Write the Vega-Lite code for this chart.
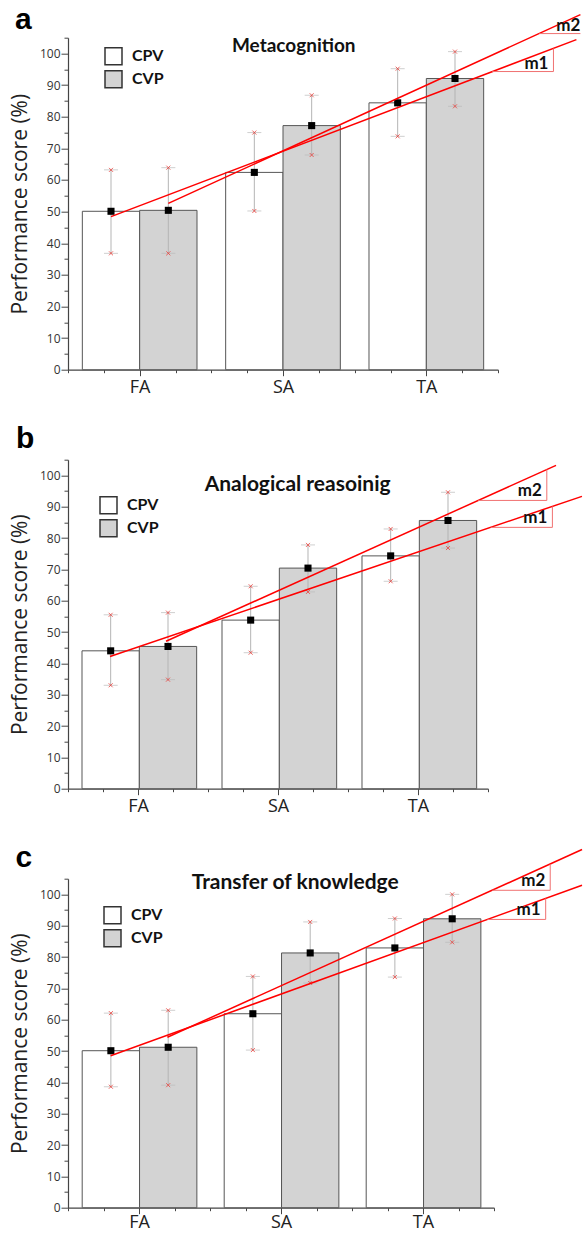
{
  "$schema": "https://vega.github.io/schema/vega-lite/v6.json",
  "bounds": "flush",
  "spacing": 90,
  "padding": {"left": 9, "top": 3.7, "right": 0, "bottom": 4},
  "background": "white",
  "config": {
    "view": {"stroke": null},
    "axis": {"grid": false, "domainColor": "#444", "tickColor": "#444", "domainWidth": 1.2, "tickWidth": 1, "labelOverlap": false}
  },
  "datasets": {
    "bars": [
      {"panel": "a", "group": "FA", "cond": "CPV", "mean": 50.1, "lo": 36.8, "hi": 63.2},
      {"panel": "a", "group": "FA", "cond": "CVP", "mean": 50.4, "lo": 36.8, "hi": 63.9},
      {"panel": "a", "group": "SA", "cond": "CPV", "mean": 62.4, "lo": 50.2, "hi": 75.0},
      {"panel": "a", "group": "SA", "cond": "CVP", "mean": 77.2, "lo": 67.9, "hi": 86.8},
      {"panel": "a", "group": "TA", "cond": "CPV", "mean": 84.4, "lo": 73.8, "hi": 95.2},
      {"panel": "a", "group": "TA", "cond": "CVP", "mean": 92.1, "lo": 83.3, "hi": 100.6},
      {"panel": "b", "group": "FA", "cond": "CPV", "mean": 44.0, "lo": 33.0, "hi": 55.5},
      {"panel": "b", "group": "FA", "cond": "CVP", "mean": 45.4, "lo": 34.8, "hi": 56.2},
      {"panel": "b", "group": "SA", "cond": "CPV", "mean": 53.8, "lo": 43.4, "hi": 64.6},
      {"panel": "b", "group": "SA", "cond": "CVP", "mean": 70.4, "lo": 62.8, "hi": 77.8},
      {"panel": "b", "group": "TA", "cond": "CPV", "mean": 74.3, "lo": 66.2, "hi": 82.9},
      {"panel": "b", "group": "TA", "cond": "CVP", "mean": 85.6, "lo": 76.8, "hi": 94.6},
      {"panel": "c", "group": "FA", "cond": "CPV", "mean": 50.1, "lo": 38.6, "hi": 62.1},
      {"panel": "c", "group": "FA", "cond": "CVP", "mean": 51.2, "lo": 39.1, "hi": 63.0},
      {"panel": "c", "group": "SA", "cond": "CPV", "mean": 61.9, "lo": 50.3, "hi": 73.8},
      {"panel": "c", "group": "SA", "cond": "CVP", "mean": 81.3, "lo": 71.7, "hi": 91.2},
      {"panel": "c", "group": "TA", "cond": "CPV", "mean": 82.9, "lo": 73.6, "hi": 92.3},
      {"panel": "c", "group": "TA", "cond": "CVP", "mean": 92.2, "lo": 84.7, "hi": 100.0}
    ],
    "fits": [
      {"panel": "a", "line": "m1", "gx": 0.8, "fy": 48.4},
      {"panel": "a", "line": "m1", "gx": 4.047, "fy": 104.4},
      {"panel": "a", "line": "m2", "gx": 1.2, "fy": 52.6},
      {"panel": "a", "line": "m2", "gx": 4.075, "fy": 112.3},
      {"panel": "b", "line": "m1", "gx": 0.8, "fy": 42.2},
      {"panel": "b", "line": "m1", "gx": 4.171, "fy": 93.3},
      {"panel": "b", "line": "m2", "gx": 1.2, "fy": 47.05},
      {"panel": "b", "line": "m2", "gx": 3.986, "fy": 103.2},
      {"panel": "c", "line": "m1", "gx": 0.8, "fy": 48.5},
      {"panel": "c", "line": "m1", "gx": 4.12, "fy": 102.9},
      {"panel": "c", "line": "m2", "gx": 1.2, "fy": 54.4},
      {"panel": "c", "line": "m2", "gx": 4.12, "fy": 114.3}
    ],
    "tri": [
      {"panel": "a", "line": "m1", "xa": 3.46, "xb": 3.887, "ya": 94.3, "yb": 101.6, "xt": 3.887},
      {"panel": "a", "line": "m2", "xa": 3.788, "xb": 4.075, "ya": 106.3, "yb": 106.3, "xt": 4.11},
      {"panel": "b", "line": "m1", "xa": 3.52, "xb": 3.96, "ya": 83.4, "yb": 90.1, "xt": 3.96},
      {"panel": "b", "line": "m2", "xa": 3.43, "xb": 3.92, "ya": 92.0, "yb": 101.9, "xt": 3.92},
      {"panel": "c", "line": "m1", "xa": 3.454, "xb": 3.864, "ya": 92.0, "yb": 98.7, "xt": 3.864},
      {"panel": "c", "line": "m2", "xa": 3.488, "xb": 3.896, "ya": 101.3, "yb": 109.7, "xt": 3.896}
    ]
  },
  "resolve": {"scale": {"fill": "independent"}, "legend": {"fill": "independent"}},
  "vconcat": [
    {
      "width": 430, "height": 332,
      "resolve": {"scale": {"x": "independent"}, "axis": {"x": "independent"}},
      "layer": [
        {
          "data": {"name": "bars"},
          "transform": [{"filter": "datum.panel === 'a'"}],
          "encoding": {
            "x": {"field": "group", "type": "nominal", "scale": {"type": "band", "domain": ["FA", "SA", "TA"], "paddingInner": 0.2, "paddingOuter": 0.1}, "axis": null},
            "xOffset": {"field": "cond", "type": "nominal", "scale": {"domain": ["CPV", "CVP"], "paddingInner": 0, "paddingOuter": 0}}
          },
          "layer": [
            {
              "mark": {"type": "bar", "stroke": "#555", "strokeWidth": 1},
              "encoding": {
                "y": {"field": "mean", "type": "quantitative", "scale": {"domain": [0, 105], "nice": false}, "axis": {"title": "Performance score (%)", "values": [0,5,10,15,20,25,30,35,40,45,50,55,60,65,70,75,80,85,90,95,100,105], "labelExpr": "datum.value % 10 === 0 ? datum.label : ''", "tickSize": {"condition": {"test": "datum.value % 10 === 0", "value": 7}, "value": 4}, "titleFont": "Open Sans", "titleFontSize": 21, "titleFontWeight": "normal", "titleColor": "#222", "titlePadding": 9, "labelFont": "Open Sans", "labelFontSize": 12, "labelColor": "#333", "labelPadding": 1, "labelOverlap": false}},
                "fill": {"field": "cond", "type": "nominal", "scale": {"domain": ["CPV", "CVP"], "range": ["#ffffff", "#d3d3d3"]},
                  "legend": {"orient": "none", "legendX": 36, "legendY": 9, "title": null, "symbolType": "square", "symbolSize": 289, "symbolStrokeColor": "#333", "symbolStrokeWidth": 1.5, "labelFont": "Lato", "labelFontWeight": "bold", "labelFontSize": 16, "labelColor": "#111", "rowPadding": 0, "labelOffset": 9, "padding": 0}}
              }
            },
            {"mark": {"type": "rule", "color": "#b5b5b5", "strokeWidth": 1}, "encoding": {"y": {"field": "lo", "type": "quantitative", "scale": {"domain": [0, 105], "nice": false}, "axis": {"title": "Performance score (%)", "values": [0,5,10,15,20,25,30,35,40,45,50,55,60,65,70,75,80,85,90,95,100,105], "labelExpr": "datum.value % 10 === 0 ? datum.label : ''", "tickSize": {"condition": {"test": "datum.value % 10 === 0", "value": 7}, "value": 4}, "titleFont": "Open Sans", "titleFontSize": 21, "titleFontWeight": "normal", "titleColor": "#222", "titlePadding": 9, "labelFont": "Open Sans", "labelFontSize": 12, "labelColor": "#333", "labelPadding": 1, "labelOverlap": false}}, "y2": {"field": "hi"}}},
            {"mark": {"type": "tick", "orient": "horizontal", "size": 14, "thickness": 1, "color": "#bbbbbb"}, "encoding": {"y": {"field": "lo", "type": "quantitative", "scale": {"domain": [0, 105], "nice": false}, "axis": {"title": "Performance score (%)", "values": [0,5,10,15,20,25,30,35,40,45,50,55,60,65,70,75,80,85,90,95,100,105], "labelExpr": "datum.value % 10 === 0 ? datum.label : ''", "tickSize": {"condition": {"test": "datum.value % 10 === 0", "value": 7}, "value": 4}, "titleFont": "Open Sans", "titleFontSize": 21, "titleFontWeight": "normal", "titleColor": "#222", "titlePadding": 9, "labelFont": "Open Sans", "labelFontSize": 12, "labelColor": "#333", "labelPadding": 1, "labelOverlap": false}}}},
            {"mark": {"type": "tick", "orient": "horizontal", "size": 14, "thickness": 1, "color": "#bbbbbb"}, "encoding": {"y": {"field": "hi", "type": "quantitative", "scale": {"domain": [0, 105], "nice": false}, "axis": {"title": "Performance score (%)", "values": [0,5,10,15,20,25,30,35,40,45,50,55,60,65,70,75,80,85,90,95,100,105], "labelExpr": "datum.value % 10 === 0 ? datum.label : ''", "tickSize": {"condition": {"test": "datum.value % 10 === 0", "value": 7}, "value": 4}, "titleFont": "Open Sans", "titleFontSize": 21, "titleFontWeight": "normal", "titleColor": "#222", "titlePadding": 9, "labelFont": "Open Sans", "labelFontSize": 12, "labelColor": "#333", "labelPadding": 1, "labelOverlap": false}}}},
            {"mark": {"type": "point", "shape": "M-1,-1L1,1M-1,1L1,-1", "size": 16, "filled": false, "stroke": "#e8413c", "strokeWidth": 0.8, "opacity": 1}, "encoding": {"y": {"field": "lo", "type": "quantitative", "scale": {"domain": [0, 105], "nice": false}, "axis": {"title": "Performance score (%)", "values": [0,5,10,15,20,25,30,35,40,45,50,55,60,65,70,75,80,85,90,95,100,105], "labelExpr": "datum.value % 10 === 0 ? datum.label : ''", "tickSize": {"condition": {"test": "datum.value % 10 === 0", "value": 7}, "value": 4}, "titleFont": "Open Sans", "titleFontSize": 21, "titleFontWeight": "normal", "titleColor": "#222", "titlePadding": 9, "labelFont": "Open Sans", "labelFontSize": 12, "labelColor": "#333", "labelPadding": 1, "labelOverlap": false}}}},
            {"mark": {"type": "point", "shape": "M-1,-1L1,1M-1,1L1,-1", "size": 16, "filled": false, "stroke": "#e8413c", "strokeWidth": 0.8, "opacity": 1}, "encoding": {"y": {"field": "hi", "type": "quantitative", "scale": {"domain": [0, 105], "nice": false}, "axis": {"title": "Performance score (%)", "values": [0,5,10,15,20,25,30,35,40,45,50,55,60,65,70,75,80,85,90,95,100,105], "labelExpr": "datum.value % 10 === 0 ? datum.label : ''", "tickSize": {"condition": {"test": "datum.value % 10 === 0", "value": 7}, "value": 4}, "titleFont": "Open Sans", "titleFontSize": 21, "titleFontWeight": "normal", "titleColor": "#222", "titlePadding": 9, "labelFont": "Open Sans", "labelFontSize": 12, "labelColor": "#333", "labelPadding": 1, "labelOverlap": false}}}},
            {"mark": {"type": "point", "shape": "square", "size": 50, "filled": true, "color": "#000", "opacity": 1}, "encoding": {"y": {"field": "mean", "type": "quantitative", "scale": {"domain": [0, 105], "nice": false}, "axis": {"title": "Performance score (%)", "values": [0,5,10,15,20,25,30,35,40,45,50,55,60,65,70,75,80,85,90,95,100,105], "labelExpr": "datum.value % 10 === 0 ? datum.label : ''", "tickSize": {"condition": {"test": "datum.value % 10 === 0", "value": 7}, "value": 4}, "titleFont": "Open Sans", "titleFontSize": 21, "titleFontWeight": "normal", "titleColor": "#222", "titlePadding": 9, "labelFont": "Open Sans", "labelFontSize": 12, "labelColor": "#333", "labelPadding": 1, "labelOverlap": false}}}}
          ]
        },
        {
          "layer": [
            {
              "data": {"name": "fits"},
              "transform": [{"filter": "datum.panel === 'a'"}],
              "mark": {"type": "line", "color": "#ff0000", "strokeWidth": 1.5},
              "encoding": {
                "x": {"field": "gx", "type": "quantitative", "scale": {"domain": [0.5, 3.5], "nice": false, "zero": false}, "axis": {"title": null, "values": [0.5,0.75,1,1.25,1.5,1.75,2,2.25,2.5,2.75,3,3.25,3.5], "labelExpr": "datum.value === 1 ? 'FA' : datum.value === 2 ? 'SA' : datum.value === 3 ? 'TA' : ''", "tickSize": {"condition": {"test": "datum.value % 1 === 0", "value": 6}, "value": 3}, "labelFont": "Open Sans", "labelFontSize": 18, "labelColor": "#222", "labelPadding": 3, "labelOverlap": false, "labelFlush": false}},
                "y": {"field": "fy", "type": "quantitative", "scale": {"domain": [0, 105], "nice": false}, "axis": {"title": "Performance score (%)", "values": [0,5,10,15,20,25,30,35,40,45,50,55,60,65,70,75,80,85,90,95,100,105], "labelExpr": "datum.value % 10 === 0 ? datum.label : ''", "tickSize": {"condition": {"test": "datum.value % 10 === 0", "value": 7}, "value": 4}, "titleFont": "Open Sans", "titleFontSize": 21, "titleFontWeight": "normal", "titleColor": "#222", "titlePadding": 9, "labelFont": "Open Sans", "labelFontSize": 12, "labelColor": "#333", "labelPadding": 1, "labelOverlap": false}},
                "detail": {"field": "line"}
              }
            },
            {
              "data": {"name": "tri"},
              "transform": [{"filter": "datum.panel === 'a'"}],
              "mark": {"type": "rule", "color": "#f07070", "strokeWidth": 1},
              "encoding": {"x": {"field": "xa", "type": "quantitative", "scale": {"domain": [0.5, 3.5], "nice": false, "zero": false}, "axis": {"title": null, "values": [0.5,0.75,1,1.25,1.5,1.75,2,2.25,2.5,2.75,3,3.25,3.5], "labelExpr": "datum.value === 1 ? 'FA' : datum.value === 2 ? 'SA' : datum.value === 3 ? 'TA' : ''", "tickSize": {"condition": {"test": "datum.value % 1 === 0", "value": 6}, "value": 3}, "labelFont": "Open Sans", "labelFontSize": 18, "labelColor": "#222", "labelPadding": 3, "labelOverlap": false, "labelFlush": false}}, "x2": {"field": "xb"}, "y": {"field": "ya", "type": "quantitative", "scale": {"domain": [0, 105], "nice": false}, "axis": {"title": "Performance score (%)", "values": [0,5,10,15,20,25,30,35,40,45,50,55,60,65,70,75,80,85,90,95,100,105], "labelExpr": "datum.value % 10 === 0 ? datum.label : ''", "tickSize": {"condition": {"test": "datum.value % 10 === 0", "value": 7}, "value": 4}, "titleFont": "Open Sans", "titleFontSize": 21, "titleFontWeight": "normal", "titleColor": "#222", "titlePadding": 9, "labelFont": "Open Sans", "labelFontSize": 12, "labelColor": "#333", "labelPadding": 1, "labelOverlap": false}}}
            },
            {
              "data": {"name": "tri"},
              "transform": [{"filter": "datum.panel === 'a'"}],
              "mark": {"type": "rule", "color": "#f07070", "strokeWidth": 1},
              "encoding": {"x": {"field": "xb", "type": "quantitative", "scale": {"domain": [0.5, 3.5], "nice": false, "zero": false}, "axis": {"title": null, "values": [0.5,0.75,1,1.25,1.5,1.75,2,2.25,2.5,2.75,3,3.25,3.5], "labelExpr": "datum.value === 1 ? 'FA' : datum.value === 2 ? 'SA' : datum.value === 3 ? 'TA' : ''", "tickSize": {"condition": {"test": "datum.value % 1 === 0", "value": 6}, "value": 3}, "labelFont": "Open Sans", "labelFontSize": 18, "labelColor": "#222", "labelPadding": 3, "labelOverlap": false, "labelFlush": false}}, "y": {"field": "ya", "type": "quantitative", "scale": {"domain": [0, 105], "nice": false}, "axis": {"title": "Performance score (%)", "values": [0,5,10,15,20,25,30,35,40,45,50,55,60,65,70,75,80,85,90,95,100,105], "labelExpr": "datum.value % 10 === 0 ? datum.label : ''", "tickSize": {"condition": {"test": "datum.value % 10 === 0", "value": 7}, "value": 4}, "titleFont": "Open Sans", "titleFontSize": 21, "titleFontWeight": "normal", "titleColor": "#222", "titlePadding": 9, "labelFont": "Open Sans", "labelFontSize": 12, "labelColor": "#333", "labelPadding": 1, "labelOverlap": false}}, "y2": {"field": "yb"}}
            },
            {
              "data": {"name": "tri"},
              "transform": [{"filter": "datum.panel === 'a'"}],
              "mark": {"type": "text", "align": "right", "baseline": "alphabetic", "dx": -5, "dy": -3, "font": "Lato", "fontWeight": "bold", "fontSize": 17, "color": "#111"},
              "encoding": {"x": {"field": "xt", "type": "quantitative", "scale": {"domain": [0.5, 3.5], "nice": false, "zero": false}, "axis": {"title": null, "values": [0.5,0.75,1,1.25,1.5,1.75,2,2.25,2.5,2.75,3,3.25,3.5], "labelExpr": "datum.value === 1 ? 'FA' : datum.value === 2 ? 'SA' : datum.value === 3 ? 'TA' : ''", "tickSize": {"condition": {"test": "datum.value % 1 === 0", "value": 6}, "value": 3}, "labelFont": "Open Sans", "labelFontSize": 18, "labelColor": "#222", "labelPadding": 3, "labelOverlap": false, "labelFlush": false}}, "y": {"field": "ya", "type": "quantitative", "scale": {"domain": [0, 105], "nice": false}, "axis": {"title": "Performance score (%)", "values": [0,5,10,15,20,25,30,35,40,45,50,55,60,65,70,75,80,85,90,95,100,105], "labelExpr": "datum.value % 10 === 0 ? datum.label : ''", "tickSize": {"condition": {"test": "datum.value % 10 === 0", "value": 7}, "value": 4}, "titleFont": "Open Sans", "titleFontSize": 21, "titleFontWeight": "normal", "titleColor": "#222", "titlePadding": 9, "labelFont": "Open Sans", "labelFontSize": 12, "labelColor": "#333", "labelPadding": 1, "labelOverlap": false}}, "text": {"field": "line"}}
            },
            {
              "data": {"values": [{}]},
              "mark": {"type": "text", "text": "Metacognition", "align": "center", "baseline": "alphabetic", "font": "Lato", "fontWeight": "bold", "fontSize": 19, "color": "#111"},
              "encoding": {"x": {"datum": 2.075, "type": "quantitative", "scale": {"domain": [0.5, 3.5], "nice": false, "zero": false}, "axis": {"title": null, "values": [0.5,0.75,1,1.25,1.5,1.75,2,2.25,2.5,2.75,3,3.25,3.5], "labelExpr": "datum.value === 1 ? 'FA' : datum.value === 2 ? 'SA' : datum.value === 3 ? 'TA' : ''", "tickSize": {"condition": {"test": "datum.value % 1 === 0", "value": 6}, "value": 3}, "labelFont": "Open Sans", "labelFontSize": 18, "labelColor": "#222", "labelPadding": 3, "labelOverlap": false, "labelFlush": false}}, "y": {"datum": 100.6, "type": "quantitative", "scale": {"domain": [0, 105], "nice": false}, "axis": {"title": "Performance score (%)", "values": [0,5,10,15,20,25,30,35,40,45,50,55,60,65,70,75,80,85,90,95,100,105], "labelExpr": "datum.value % 10 === 0 ? datum.label : ''", "tickSize": {"condition": {"test": "datum.value % 10 === 0", "value": 7}, "value": 4}, "titleFont": "Open Sans", "titleFontSize": 21, "titleFontWeight": "normal", "titleColor": "#222", "titlePadding": 9, "labelFont": "Open Sans", "labelFontSize": 12, "labelColor": "#333", "labelPadding": 1, "labelOverlap": false}}}
            },
            {
              "data": {"values": [{}]},
              "mark": {"type": "text", "text": "a", "align": "left", "baseline": "alphabetic", "font": "Liberation Sans", "fontWeight": "bold", "fontSize": 30, "color": "#000"},
              "encoding": {"x": {"datum": 0.13, "type": "quantitative", "scale": {"domain": [0.5, 3.5], "nice": false, "zero": false}, "axis": {"title": null, "values": [0.5,0.75,1,1.25,1.5,1.75,2,2.25,2.5,2.75,3,3.25,3.5], "labelExpr": "datum.value === 1 ? 'FA' : datum.value === 2 ? 'SA' : datum.value === 3 ? 'TA' : ''", "tickSize": {"condition": {"test": "datum.value % 1 === 0", "value": 6}, "value": 3}, "labelFont": "Open Sans", "labelFontSize": 18, "labelColor": "#222", "labelPadding": 3, "labelOverlap": false, "labelFlush": false}}, "y": {"datum": 107.85, "type": "quantitative", "scale": {"domain": [0, 105], "nice": false}, "axis": {"title": "Performance score (%)", "values": [0,5,10,15,20,25,30,35,40,45,50,55,60,65,70,75,80,85,90,95,100,105], "labelExpr": "datum.value % 10 === 0 ? datum.label : ''", "tickSize": {"condition": {"test": "datum.value % 10 === 0", "value": 7}, "value": 4}, "titleFont": "Open Sans", "titleFontSize": 21, "titleFontWeight": "normal", "titleColor": "#222", "titlePadding": 9, "labelFont": "Open Sans", "labelFontSize": 12, "labelColor": "#333", "labelPadding": 1, "labelOverlap": false}}}
            }
          ]
        }
      ]
    },
    {
      "width": 420, "height": 329,
      "resolve": {"scale": {"x": "independent"}, "axis": {"x": "independent"}},
      "layer": [
        {
          "data": {"name": "bars"},
          "transform": [{"filter": "datum.panel === 'b'"}],
          "encoding": {
            "x": {"field": "group", "type": "nominal", "scale": {"type": "band", "domain": ["FA", "SA", "TA"], "paddingInner": 0.2, "paddingOuter": 0.1}, "axis": null},
            "xOffset": {"field": "cond", "type": "nominal", "scale": {"domain": ["CPV", "CVP"], "paddingInner": 0, "paddingOuter": 0}}
          },
          "layer": [
            {
              "mark": {"type": "bar", "stroke": "#555", "strokeWidth": 1},
              "encoding": {
                "y": {"field": "mean", "type": "quantitative", "scale": {"domain": [0, 105], "nice": false}, "axis": {"title": "Performance score (%)", "values": [0,5,10,15,20,25,30,35,40,45,50,55,60,65,70,75,80,85,90,95,100,105], "labelExpr": "datum.value % 10 === 0 ? datum.label : ''", "tickSize": {"condition": {"test": "datum.value % 10 === 0", "value": 7}, "value": 4}, "titleFont": "Open Sans", "titleFontSize": 21, "titleFontWeight": "normal", "titleColor": "#222", "titlePadding": 9, "labelFont": "Open Sans", "labelFontSize": 12, "labelColor": "#333", "labelPadding": 1, "labelOverlap": false}},
                "fill": {"field": "cond", "type": "nominal", "scale": {"domain": ["CPV", "CVP"], "range": ["#ffffff", "#d3d3d3"]},
                  "legend": {"orient": "none", "legendX": 31, "legendY": 36, "title": null, "symbolType": "square", "symbolSize": 289, "symbolStrokeColor": "#333", "symbolStrokeWidth": 1.5, "labelFont": "Lato", "labelFontWeight": "bold", "labelFontSize": 16, "labelColor": "#111", "rowPadding": 0, "labelOffset": 9, "padding": 0}}
              }
            },
            {"mark": {"type": "rule", "color": "#b5b5b5", "strokeWidth": 1}, "encoding": {"y": {"field": "lo", "type": "quantitative", "scale": {"domain": [0, 105], "nice": false}, "axis": {"title": "Performance score (%)", "values": [0,5,10,15,20,25,30,35,40,45,50,55,60,65,70,75,80,85,90,95,100,105], "labelExpr": "datum.value % 10 === 0 ? datum.label : ''", "tickSize": {"condition": {"test": "datum.value % 10 === 0", "value": 7}, "value": 4}, "titleFont": "Open Sans", "titleFontSize": 21, "titleFontWeight": "normal", "titleColor": "#222", "titlePadding": 9, "labelFont": "Open Sans", "labelFontSize": 12, "labelColor": "#333", "labelPadding": 1, "labelOverlap": false}}, "y2": {"field": "hi"}}},
            {"mark": {"type": "tick", "orient": "horizontal", "size": 14, "thickness": 1, "color": "#bbbbbb"}, "encoding": {"y": {"field": "lo", "type": "quantitative", "scale": {"domain": [0, 105], "nice": false}, "axis": {"title": "Performance score (%)", "values": [0,5,10,15,20,25,30,35,40,45,50,55,60,65,70,75,80,85,90,95,100,105], "labelExpr": "datum.value % 10 === 0 ? datum.label : ''", "tickSize": {"condition": {"test": "datum.value % 10 === 0", "value": 7}, "value": 4}, "titleFont": "Open Sans", "titleFontSize": 21, "titleFontWeight": "normal", "titleColor": "#222", "titlePadding": 9, "labelFont": "Open Sans", "labelFontSize": 12, "labelColor": "#333", "labelPadding": 1, "labelOverlap": false}}}},
            {"mark": {"type": "tick", "orient": "horizontal", "size": 14, "thickness": 1, "color": "#bbbbbb"}, "encoding": {"y": {"field": "hi", "type": "quantitative", "scale": {"domain": [0, 105], "nice": false}, "axis": {"title": "Performance score (%)", "values": [0,5,10,15,20,25,30,35,40,45,50,55,60,65,70,75,80,85,90,95,100,105], "labelExpr": "datum.value % 10 === 0 ? datum.label : ''", "tickSize": {"condition": {"test": "datum.value % 10 === 0", "value": 7}, "value": 4}, "titleFont": "Open Sans", "titleFontSize": 21, "titleFontWeight": "normal", "titleColor": "#222", "titlePadding": 9, "labelFont": "Open Sans", "labelFontSize": 12, "labelColor": "#333", "labelPadding": 1, "labelOverlap": false}}}},
            {"mark": {"type": "point", "shape": "M-1,-1L1,1M-1,1L1,-1", "size": 16, "filled": false, "stroke": "#e8413c", "strokeWidth": 0.8, "opacity": 1}, "encoding": {"y": {"field": "lo", "type": "quantitative", "scale": {"domain": [0, 105], "nice": false}, "axis": {"title": "Performance score (%)", "values": [0,5,10,15,20,25,30,35,40,45,50,55,60,65,70,75,80,85,90,95,100,105], "labelExpr": "datum.value % 10 === 0 ? datum.label : ''", "tickSize": {"condition": {"test": "datum.value % 10 === 0", "value": 7}, "value": 4}, "titleFont": "Open Sans", "titleFontSize": 21, "titleFontWeight": "normal", "titleColor": "#222", "titlePadding": 9, "labelFont": "Open Sans", "labelFontSize": 12, "labelColor": "#333", "labelPadding": 1, "labelOverlap": false}}}},
            {"mark": {"type": "point", "shape": "M-1,-1L1,1M-1,1L1,-1", "size": 16, "filled": false, "stroke": "#e8413c", "strokeWidth": 0.8, "opacity": 1}, "encoding": {"y": {"field": "hi", "type": "quantitative", "scale": {"domain": [0, 105], "nice": false}, "axis": {"title": "Performance score (%)", "values": [0,5,10,15,20,25,30,35,40,45,50,55,60,65,70,75,80,85,90,95,100,105], "labelExpr": "datum.value % 10 === 0 ? datum.label : ''", "tickSize": {"condition": {"test": "datum.value % 10 === 0", "value": 7}, "value": 4}, "titleFont": "Open Sans", "titleFontSize": 21, "titleFontWeight": "normal", "titleColor": "#222", "titlePadding": 9, "labelFont": "Open Sans", "labelFontSize": 12, "labelColor": "#333", "labelPadding": 1, "labelOverlap": false}}}},
            {"mark": {"type": "point", "shape": "square", "size": 50, "filled": true, "color": "#000", "opacity": 1}, "encoding": {"y": {"field": "mean", "type": "quantitative", "scale": {"domain": [0, 105], "nice": false}, "axis": {"title": "Performance score (%)", "values": [0,5,10,15,20,25,30,35,40,45,50,55,60,65,70,75,80,85,90,95,100,105], "labelExpr": "datum.value % 10 === 0 ? datum.label : ''", "tickSize": {"condition": {"test": "datum.value % 10 === 0", "value": 7}, "value": 4}, "titleFont": "Open Sans", "titleFontSize": 21, "titleFontWeight": "normal", "titleColor": "#222", "titlePadding": 9, "labelFont": "Open Sans", "labelFontSize": 12, "labelColor": "#333", "labelPadding": 1, "labelOverlap": false}}}}
          ]
        },
        {
          "layer": [
            {
              "data": {"name": "fits"},
              "transform": [{"filter": "datum.panel === 'b'"}],
              "mark": {"type": "line", "color": "#ff0000", "strokeWidth": 1.5},
              "encoding": {
                "x": {"field": "gx", "type": "quantitative", "scale": {"domain": [0.5, 3.5], "nice": false, "zero": false}, "axis": {"title": null, "values": [0.5,0.75,1,1.25,1.5,1.75,2,2.25,2.5,2.75,3,3.25,3.5], "labelExpr": "datum.value === 1 ? 'FA' : datum.value === 2 ? 'SA' : datum.value === 3 ? 'TA' : ''", "tickSize": {"condition": {"test": "datum.value % 1 === 0", "value": 6}, "value": 3}, "labelFont": "Open Sans", "labelFontSize": 18, "labelColor": "#222", "labelPadding": 3, "labelOverlap": false, "labelFlush": false}},
                "y": {"field": "fy", "type": "quantitative", "scale": {"domain": [0, 105], "nice": false}, "axis": {"title": "Performance score (%)", "values": [0,5,10,15,20,25,30,35,40,45,50,55,60,65,70,75,80,85,90,95,100,105], "labelExpr": "datum.value % 10 === 0 ? datum.label : ''", "tickSize": {"condition": {"test": "datum.value % 10 === 0", "value": 7}, "value": 4}, "titleFont": "Open Sans", "titleFontSize": 21, "titleFontWeight": "normal", "titleColor": "#222", "titlePadding": 9, "labelFont": "Open Sans", "labelFontSize": 12, "labelColor": "#333", "labelPadding": 1, "labelOverlap": false}},
                "detail": {"field": "line"}
              }
            },
            {
              "data": {"name": "tri"},
              "transform": [{"filter": "datum.panel === 'b'"}],
              "mark": {"type": "rule", "color": "#f07070", "strokeWidth": 1},
              "encoding": {"x": {"field": "xa", "type": "quantitative", "scale": {"domain": [0.5, 3.5], "nice": false, "zero": false}, "axis": {"title": null, "values": [0.5,0.75,1,1.25,1.5,1.75,2,2.25,2.5,2.75,3,3.25,3.5], "labelExpr": "datum.value === 1 ? 'FA' : datum.value === 2 ? 'SA' : datum.value === 3 ? 'TA' : ''", "tickSize": {"condition": {"test": "datum.value % 1 === 0", "value": 6}, "value": 3}, "labelFont": "Open Sans", "labelFontSize": 18, "labelColor": "#222", "labelPadding": 3, "labelOverlap": false, "labelFlush": false}}, "x2": {"field": "xb"}, "y": {"field": "ya", "type": "quantitative", "scale": {"domain": [0, 105], "nice": false}, "axis": {"title": "Performance score (%)", "values": [0,5,10,15,20,25,30,35,40,45,50,55,60,65,70,75,80,85,90,95,100,105], "labelExpr": "datum.value % 10 === 0 ? datum.label : ''", "tickSize": {"condition": {"test": "datum.value % 10 === 0", "value": 7}, "value": 4}, "titleFont": "Open Sans", "titleFontSize": 21, "titleFontWeight": "normal", "titleColor": "#222", "titlePadding": 9, "labelFont": "Open Sans", "labelFontSize": 12, "labelColor": "#333", "labelPadding": 1, "labelOverlap": false}}}
            },
            {
              "data": {"name": "tri"},
              "transform": [{"filter": "datum.panel === 'b'"}],
              "mark": {"type": "rule", "color": "#f07070", "strokeWidth": 1},
              "encoding": {"x": {"field": "xb", "type": "quantitative", "scale": {"domain": [0.5, 3.5], "nice": false, "zero": false}, "axis": {"title": null, "values": [0.5,0.75,1,1.25,1.5,1.75,2,2.25,2.5,2.75,3,3.25,3.5], "labelExpr": "datum.value === 1 ? 'FA' : datum.value === 2 ? 'SA' : datum.value === 3 ? 'TA' : ''", "tickSize": {"condition": {"test": "datum.value % 1 === 0", "value": 6}, "value": 3}, "labelFont": "Open Sans", "labelFontSize": 18, "labelColor": "#222", "labelPadding": 3, "labelOverlap": false, "labelFlush": false}}, "y": {"field": "ya", "type": "quantitative", "scale": {"domain": [0, 105], "nice": false}, "axis": {"title": "Performance score (%)", "values": [0,5,10,15,20,25,30,35,40,45,50,55,60,65,70,75,80,85,90,95,100,105], "labelExpr": "datum.value % 10 === 0 ? datum.label : ''", "tickSize": {"condition": {"test": "datum.value % 10 === 0", "value": 7}, "value": 4}, "titleFont": "Open Sans", "titleFontSize": 21, "titleFontWeight": "normal", "titleColor": "#222", "titlePadding": 9, "labelFont": "Open Sans", "labelFontSize": 12, "labelColor": "#333", "labelPadding": 1, "labelOverlap": false}}, "y2": {"field": "yb"}}
            },
            {
              "data": {"name": "tri"},
              "transform": [{"filter": "datum.panel === 'b'"}],
              "mark": {"type": "text", "align": "right", "baseline": "alphabetic", "dx": -5, "dy": -4, "font": "Lato", "fontWeight": "bold", "fontSize": 17, "color": "#111"},
              "encoding": {"x": {"field": "xt", "type": "quantitative", "scale": {"domain": [0.5, 3.5], "nice": false, "zero": false}, "axis": {"title": null, "values": [0.5,0.75,1,1.25,1.5,1.75,2,2.25,2.5,2.75,3,3.25,3.5], "labelExpr": "datum.value === 1 ? 'FA' : datum.value === 2 ? 'SA' : datum.value === 3 ? 'TA' : ''", "tickSize": {"condition": {"test": "datum.value % 1 === 0", "value": 6}, "value": 3}, "labelFont": "Open Sans", "labelFontSize": 18, "labelColor": "#222", "labelPadding": 3, "labelOverlap": false, "labelFlush": false}}, "y": {"field": "ya", "type": "quantitative", "scale": {"domain": [0, 105], "nice": false}, "axis": {"title": "Performance score (%)", "values": [0,5,10,15,20,25,30,35,40,45,50,55,60,65,70,75,80,85,90,95,100,105], "labelExpr": "datum.value % 10 === 0 ? datum.label : ''", "tickSize": {"condition": {"test": "datum.value % 10 === 0", "value": 7}, "value": 4}, "titleFont": "Open Sans", "titleFontSize": 21, "titleFontWeight": "normal", "titleColor": "#222", "titlePadding": 9, "labelFont": "Open Sans", "labelFontSize": 12, "labelColor": "#333", "labelPadding": 1, "labelOverlap": false}}, "text": {"field": "line"}}
            },
            {
              "data": {"values": [{}]},
              "mark": {"type": "text", "text": "Analogical reasoinig", "align": "center", "baseline": "alphabetic", "font": "Lato", "fontWeight": "bold", "fontSize": 21, "color": "#111"},
              "encoding": {"x": {"datum": 2.14, "type": "quantitative", "scale": {"domain": [0.5, 3.5], "nice": false, "zero": false}, "axis": {"title": null, "values": [0.5,0.75,1,1.25,1.5,1.75,2,2.25,2.5,2.75,3,3.25,3.5], "labelExpr": "datum.value === 1 ? 'FA' : datum.value === 2 ? 'SA' : datum.value === 3 ? 'TA' : ''", "tickSize": {"condition": {"test": "datum.value % 1 === 0", "value": 6}, "value": 3}, "labelFont": "Open Sans", "labelFontSize": 18, "labelColor": "#222", "labelPadding": 3, "labelOverlap": false, "labelFlush": false}}, "y": {"datum": 94.9, "type": "quantitative", "scale": {"domain": [0, 105], "nice": false}, "axis": {"title": "Performance score (%)", "values": [0,5,10,15,20,25,30,35,40,45,50,55,60,65,70,75,80,85,90,95,100,105], "labelExpr": "datum.value % 10 === 0 ? datum.label : ''", "tickSize": {"condition": {"test": "datum.value % 10 === 0", "value": 7}, "value": 4}, "titleFont": "Open Sans", "titleFontSize": 21, "titleFontWeight": "normal", "titleColor": "#222", "titlePadding": 9, "labelFont": "Open Sans", "labelFontSize": 12, "labelColor": "#333", "labelPadding": 1, "labelOverlap": false}}}
            },
            {
              "data": {"values": [{}]},
              "mark": {"type": "text", "text": "b", "align": "left", "baseline": "alphabetic", "font": "Liberation Sans", "fontWeight": "bold", "fontSize": 30, "color": "#000"},
              "encoding": {"x": {"datum": 0.129, "type": "quantitative", "scale": {"domain": [0.5, 3.5], "nice": false, "zero": false}, "axis": {"title": null, "values": [0.5,0.75,1,1.25,1.5,1.75,2,2.25,2.5,2.75,3,3.25,3.5], "labelExpr": "datum.value === 1 ? 'FA' : datum.value === 2 ? 'SA' : datum.value === 3 ? 'TA' : ''", "tickSize": {"condition": {"test": "datum.value % 1 === 0", "value": 6}, "value": 3}, "labelFont": "Open Sans", "labelFontSize": 18, "labelColor": "#222", "labelPadding": 3, "labelOverlap": false, "labelFlush": false}}, "y": {"datum": 108.6, "type": "quantitative", "scale": {"domain": [0, 105], "nice": false}, "axis": {"title": "Performance score (%)", "values": [0,5,10,15,20,25,30,35,40,45,50,55,60,65,70,75,80,85,90,95,100,105], "labelExpr": "datum.value % 10 === 0 ? datum.label : ''", "tickSize": {"condition": {"test": "datum.value % 10 === 0", "value": 7}, "value": 4}, "titleFont": "Open Sans", "titleFontSize": 21, "titleFontWeight": "normal", "titleColor": "#222", "titlePadding": 9, "labelFont": "Open Sans", "labelFontSize": 12, "labelColor": "#333", "labelPadding": 1, "labelOverlap": false}}}
            }
          ]
        }
      ]
    },
    {
      "width": 426, "height": 329,
      "resolve": {"scale": {"x": "independent"}, "axis": {"x": "independent"}},
      "layer": [
        {
          "data": {"name": "bars"},
          "transform": [{"filter": "datum.panel === 'c'"}],
          "encoding": {
            "x": {"field": "group", "type": "nominal", "scale": {"type": "band", "domain": ["FA", "SA", "TA"], "paddingInner": 0.2, "paddingOuter": 0.1}, "axis": null},
            "xOffset": {"field": "cond", "type": "nominal", "scale": {"domain": ["CPV", "CVP"], "paddingInner": 0, "paddingOuter": 0}}
          },
          "layer": [
            {
              "mark": {"type": "bar", "stroke": "#555", "strokeWidth": 1},
              "encoding": {
                "y": {"field": "mean", "type": "quantitative", "scale": {"domain": [0, 105], "nice": false}, "axis": {"title": "Performance score (%)", "values": [0,5,10,15,20,25,30,35,40,45,50,55,60,65,70,75,80,85,90,95,100,105], "labelExpr": "datum.value % 10 === 0 ? datum.label : ''", "tickSize": {"condition": {"test": "datum.value % 10 === 0", "value": 7}, "value": 4}, "titleFont": "Open Sans", "titleFontSize": 21, "titleFontWeight": "normal", "titleColor": "#222", "titlePadding": 9, "labelFont": "Open Sans", "labelFontSize": 12, "labelColor": "#333", "labelPadding": 1, "labelOverlap": false}},
                "fill": {"field": "cond", "type": "nominal", "scale": {"domain": ["CPV", "CVP"], "range": ["#ffffff", "#d3d3d3"]},
                  "legend": {"orient": "none", "legendX": 35, "legendY": 27, "title": null, "symbolType": "square", "symbolSize": 289, "symbolStrokeColor": "#333", "symbolStrokeWidth": 1.5, "labelFont": "Lato", "labelFontWeight": "bold", "labelFontSize": 16, "labelColor": "#111", "rowPadding": 0, "labelOffset": 9, "padding": 0}}
              }
            },
            {"mark": {"type": "rule", "color": "#b5b5b5", "strokeWidth": 1}, "encoding": {"y": {"field": "lo", "type": "quantitative", "scale": {"domain": [0, 105], "nice": false}, "axis": {"title": "Performance score (%)", "values": [0,5,10,15,20,25,30,35,40,45,50,55,60,65,70,75,80,85,90,95,100,105], "labelExpr": "datum.value % 10 === 0 ? datum.label : ''", "tickSize": {"condition": {"test": "datum.value % 10 === 0", "value": 7}, "value": 4}, "titleFont": "Open Sans", "titleFontSize": 21, "titleFontWeight": "normal", "titleColor": "#222", "titlePadding": 9, "labelFont": "Open Sans", "labelFontSize": 12, "labelColor": "#333", "labelPadding": 1, "labelOverlap": false}}, "y2": {"field": "hi"}}},
            {"mark": {"type": "tick", "orient": "horizontal", "size": 14, "thickness": 1, "color": "#bbbbbb"}, "encoding": {"y": {"field": "lo", "type": "quantitative", "scale": {"domain": [0, 105], "nice": false}, "axis": {"title": "Performance score (%)", "values": [0,5,10,15,20,25,30,35,40,45,50,55,60,65,70,75,80,85,90,95,100,105], "labelExpr": "datum.value % 10 === 0 ? datum.label : ''", "tickSize": {"condition": {"test": "datum.value % 10 === 0", "value": 7}, "value": 4}, "titleFont": "Open Sans", "titleFontSize": 21, "titleFontWeight": "normal", "titleColor": "#222", "titlePadding": 9, "labelFont": "Open Sans", "labelFontSize": 12, "labelColor": "#333", "labelPadding": 1, "labelOverlap": false}}}},
            {"mark": {"type": "tick", "orient": "horizontal", "size": 14, "thickness": 1, "color": "#bbbbbb"}, "encoding": {"y": {"field": "hi", "type": "quantitative", "scale": {"domain": [0, 105], "nice": false}, "axis": {"title": "Performance score (%)", "values": [0,5,10,15,20,25,30,35,40,45,50,55,60,65,70,75,80,85,90,95,100,105], "labelExpr": "datum.value % 10 === 0 ? datum.label : ''", "tickSize": {"condition": {"test": "datum.value % 10 === 0", "value": 7}, "value": 4}, "titleFont": "Open Sans", "titleFontSize": 21, "titleFontWeight": "normal", "titleColor": "#222", "titlePadding": 9, "labelFont": "Open Sans", "labelFontSize": 12, "labelColor": "#333", "labelPadding": 1, "labelOverlap": false}}}},
            {"mark": {"type": "point", "shape": "M-1,-1L1,1M-1,1L1,-1", "size": 16, "filled": false, "stroke": "#e8413c", "strokeWidth": 0.8, "opacity": 1}, "encoding": {"y": {"field": "lo", "type": "quantitative", "scale": {"domain": [0, 105], "nice": false}, "axis": {"title": "Performance score (%)", "values": [0,5,10,15,20,25,30,35,40,45,50,55,60,65,70,75,80,85,90,95,100,105], "labelExpr": "datum.value % 10 === 0 ? datum.label : ''", "tickSize": {"condition": {"test": "datum.value % 10 === 0", "value": 7}, "value": 4}, "titleFont": "Open Sans", "titleFontSize": 21, "titleFontWeight": "normal", "titleColor": "#222", "titlePadding": 9, "labelFont": "Open Sans", "labelFontSize": 12, "labelColor": "#333", "labelPadding": 1, "labelOverlap": false}}}},
            {"mark": {"type": "point", "shape": "M-1,-1L1,1M-1,1L1,-1", "size": 16, "filled": false, "stroke": "#e8413c", "strokeWidth": 0.8, "opacity": 1}, "encoding": {"y": {"field": "hi", "type": "quantitative", "scale": {"domain": [0, 105], "nice": false}, "axis": {"title": "Performance score (%)", "values": [0,5,10,15,20,25,30,35,40,45,50,55,60,65,70,75,80,85,90,95,100,105], "labelExpr": "datum.value % 10 === 0 ? datum.label : ''", "tickSize": {"condition": {"test": "datum.value % 10 === 0", "value": 7}, "value": 4}, "titleFont": "Open Sans", "titleFontSize": 21, "titleFontWeight": "normal", "titleColor": "#222", "titlePadding": 9, "labelFont": "Open Sans", "labelFontSize": 12, "labelColor": "#333", "labelPadding": 1, "labelOverlap": false}}}},
            {"mark": {"type": "point", "shape": "square", "size": 50, "filled": true, "color": "#000", "opacity": 1}, "encoding": {"y": {"field": "mean", "type": "quantitative", "scale": {"domain": [0, 105], "nice": false}, "axis": {"title": "Performance score (%)", "values": [0,5,10,15,20,25,30,35,40,45,50,55,60,65,70,75,80,85,90,95,100,105], "labelExpr": "datum.value % 10 === 0 ? datum.label : ''", "tickSize": {"condition": {"test": "datum.value % 10 === 0", "value": 7}, "value": 4}, "titleFont": "Open Sans", "titleFontSize": 21, "titleFontWeight": "normal", "titleColor": "#222", "titlePadding": 9, "labelFont": "Open Sans", "labelFontSize": 12, "labelColor": "#333", "labelPadding": 1, "labelOverlap": false}}}}
          ]
        },
        {
          "layer": [
            {
              "data": {"name": "fits"},
              "transform": [{"filter": "datum.panel === 'c'"}],
              "mark": {"type": "line", "color": "#ff0000", "strokeWidth": 1.5},
              "encoding": {
                "x": {"field": "gx", "type": "quantitative", "scale": {"domain": [0.5, 3.5], "nice": false, "zero": false}, "axis": {"title": null, "values": [0.5,0.75,1,1.25,1.5,1.75,2,2.25,2.5,2.75,3,3.25,3.5], "labelExpr": "datum.value === 1 ? 'FA' : datum.value === 2 ? 'SA' : datum.value === 3 ? 'TA' : ''", "tickSize": {"condition": {"test": "datum.value % 1 === 0", "value": 6}, "value": 3}, "labelFont": "Open Sans", "labelFontSize": 18, "labelColor": "#222", "labelPadding": 0, "labelOverlap": false, "labelFlush": false}},
                "y": {"field": "fy", "type": "quantitative", "scale": {"domain": [0, 105], "nice": false}, "axis": {"title": "Performance score (%)", "values": [0,5,10,15,20,25,30,35,40,45,50,55,60,65,70,75,80,85,90,95,100,105], "labelExpr": "datum.value % 10 === 0 ? datum.label : ''", "tickSize": {"condition": {"test": "datum.value % 10 === 0", "value": 7}, "value": 4}, "titleFont": "Open Sans", "titleFontSize": 21, "titleFontWeight": "normal", "titleColor": "#222", "titlePadding": 9, "labelFont": "Open Sans", "labelFontSize": 12, "labelColor": "#333", "labelPadding": 1, "labelOverlap": false}},
                "detail": {"field": "line"}
              }
            },
            {
              "data": {"name": "tri"},
              "transform": [{"filter": "datum.panel === 'c'"}],
              "mark": {"type": "rule", "color": "#f07070", "strokeWidth": 1},
              "encoding": {"x": {"field": "xa", "type": "quantitative", "scale": {"domain": [0.5, 3.5], "nice": false, "zero": false}, "axis": {"title": null, "values": [0.5,0.75,1,1.25,1.5,1.75,2,2.25,2.5,2.75,3,3.25,3.5], "labelExpr": "datum.value === 1 ? 'FA' : datum.value === 2 ? 'SA' : datum.value === 3 ? 'TA' : ''", "tickSize": {"condition": {"test": "datum.value % 1 === 0", "value": 6}, "value": 3}, "labelFont": "Open Sans", "labelFontSize": 18, "labelColor": "#222", "labelPadding": 0, "labelOverlap": false, "labelFlush": false}}, "x2": {"field": "xb"}, "y": {"field": "ya", "type": "quantitative", "scale": {"domain": [0, 105], "nice": false}, "axis": {"title": "Performance score (%)", "values": [0,5,10,15,20,25,30,35,40,45,50,55,60,65,70,75,80,85,90,95,100,105], "labelExpr": "datum.value % 10 === 0 ? datum.label : ''", "tickSize": {"condition": {"test": "datum.value % 10 === 0", "value": 7}, "value": 4}, "titleFont": "Open Sans", "titleFontSize": 21, "titleFontWeight": "normal", "titleColor": "#222", "titlePadding": 9, "labelFont": "Open Sans", "labelFontSize": 12, "labelColor": "#333", "labelPadding": 1, "labelOverlap": false}}}
            },
            {
              "data": {"name": "tri"},
              "transform": [{"filter": "datum.panel === 'c'"}],
              "mark": {"type": "rule", "color": "#f07070", "strokeWidth": 1},
              "encoding": {"x": {"field": "xb", "type": "quantitative", "scale": {"domain": [0.5, 3.5], "nice": false, "zero": false}, "axis": {"title": null, "values": [0.5,0.75,1,1.25,1.5,1.75,2,2.25,2.5,2.75,3,3.25,3.5], "labelExpr": "datum.value === 1 ? 'FA' : datum.value === 2 ? 'SA' : datum.value === 3 ? 'TA' : ''", "tickSize": {"condition": {"test": "datum.value % 1 === 0", "value": 6}, "value": 3}, "labelFont": "Open Sans", "labelFontSize": 18, "labelColor": "#222", "labelPadding": 0, "labelOverlap": false, "labelFlush": false}}, "y": {"field": "ya", "type": "quantitative", "scale": {"domain": [0, 105], "nice": false}, "axis": {"title": "Performance score (%)", "values": [0,5,10,15,20,25,30,35,40,45,50,55,60,65,70,75,80,85,90,95,100,105], "labelExpr": "datum.value % 10 === 0 ? datum.label : ''", "tickSize": {"condition": {"test": "datum.value % 10 === 0", "value": 7}, "value": 4}, "titleFont": "Open Sans", "titleFontSize": 21, "titleFontWeight": "normal", "titleColor": "#222", "titlePadding": 9, "labelFont": "Open Sans", "labelFontSize": 12, "labelColor": "#333", "labelPadding": 1, "labelOverlap": false}}, "y2": {"field": "yb"}}
            },
            {
              "data": {"name": "tri"},
              "transform": [{"filter": "datum.panel === 'c'"}],
              "mark": {"type": "text", "align": "right", "baseline": "alphabetic", "dx": -5, "dy": -4, "font": "Lato", "fontWeight": "bold", "fontSize": 17, "color": "#111"},
              "encoding": {"x": {"field": "xt", "type": "quantitative", "scale": {"domain": [0.5, 3.5], "nice": false, "zero": false}, "axis": {"title": null, "values": [0.5,0.75,1,1.25,1.5,1.75,2,2.25,2.5,2.75,3,3.25,3.5], "labelExpr": "datum.value === 1 ? 'FA' : datum.value === 2 ? 'SA' : datum.value === 3 ? 'TA' : ''", "tickSize": {"condition": {"test": "datum.value % 1 === 0", "value": 6}, "value": 3}, "labelFont": "Open Sans", "labelFontSize": 18, "labelColor": "#222", "labelPadding": 0, "labelOverlap": false, "labelFlush": false}}, "y": {"field": "ya", "type": "quantitative", "scale": {"domain": [0, 105], "nice": false}, "axis": {"title": "Performance score (%)", "values": [0,5,10,15,20,25,30,35,40,45,50,55,60,65,70,75,80,85,90,95,100,105], "labelExpr": "datum.value % 10 === 0 ? datum.label : ''", "tickSize": {"condition": {"test": "datum.value % 10 === 0", "value": 7}, "value": 4}, "titleFont": "Open Sans", "titleFontSize": 21, "titleFontWeight": "normal", "titleColor": "#222", "titlePadding": 9, "labelFont": "Open Sans", "labelFontSize": 12, "labelColor": "#333", "labelPadding": 1, "labelOverlap": false}}, "text": {"field": "line"}}
            },
            {
              "data": {"values": [{}]},
              "mark": {"type": "text", "text": "Transfer of knowledge", "align": "center", "baseline": "alphabetic", "font": "Lato", "fontWeight": "bold", "fontSize": 21, "color": "#111"},
              "encoding": {"x": {"datum": 2.1, "type": "quantitative", "scale": {"domain": [0.5, 3.5], "nice": false, "zero": false}, "axis": {"title": null, "values": [0.5,0.75,1,1.25,1.5,1.75,2,2.25,2.5,2.75,3,3.25,3.5], "labelExpr": "datum.value === 1 ? 'FA' : datum.value === 2 ? 'SA' : datum.value === 3 ? 'TA' : ''", "tickSize": {"condition": {"test": "datum.value % 1 === 0", "value": 6}, "value": 3}, "labelFont": "Open Sans", "labelFontSize": 18, "labelColor": "#222", "labelPadding": 0, "labelOverlap": false, "labelFlush": false}}, "y": {"datum": 101.6, "type": "quantitative", "scale": {"domain": [0, 105], "nice": false}, "axis": {"title": "Performance score (%)", "values": [0,5,10,15,20,25,30,35,40,45,50,55,60,65,70,75,80,85,90,95,100,105], "labelExpr": "datum.value % 10 === 0 ? datum.label : ''", "tickSize": {"condition": {"test": "datum.value % 10 === 0", "value": 7}, "value": 4}, "titleFont": "Open Sans", "titleFontSize": 21, "titleFontWeight": "normal", "titleColor": "#222", "titlePadding": 9, "labelFont": "Open Sans", "labelFontSize": 12, "labelColor": "#333", "labelPadding": 1, "labelOverlap": false}}}
            },
            {
              "data": {"values": [{}]},
              "mark": {"type": "text", "text": "c", "align": "left", "baseline": "alphabetic", "font": "Liberation Sans", "fontWeight": "bold", "fontSize": 30, "color": "#000"},
              "encoding": {"x": {"datum": 0.13, "type": "quantitative", "scale": {"domain": [0.5, 3.5], "nice": false, "zero": false}, "axis": {"title": null, "values": [0.5,0.75,1,1.25,1.5,1.75,2,2.25,2.5,2.75,3,3.25,3.5], "labelExpr": "datum.value === 1 ? 'FA' : datum.value === 2 ? 'SA' : datum.value === 3 ? 'TA' : ''", "tickSize": {"condition": {"test": "datum.value % 1 === 0", "value": 6}, "value": 3}, "labelFont": "Open Sans", "labelFontSize": 18, "labelColor": "#222", "labelPadding": 0, "labelOverlap": false, "labelFlush": false}}, "y": {"datum": 108.6, "type": "quantitative", "scale": {"domain": [0, 105], "nice": false}, "axis": {"title": "Performance score (%)", "values": [0,5,10,15,20,25,30,35,40,45,50,55,60,65,70,75,80,85,90,95,100,105], "labelExpr": "datum.value % 10 === 0 ? datum.label : ''", "tickSize": {"condition": {"test": "datum.value % 10 === 0", "value": 7}, "value": 4}, "titleFont": "Open Sans", "titleFontSize": 21, "titleFontWeight": "normal", "titleColor": "#222", "titlePadding": 9, "labelFont": "Open Sans", "labelFontSize": 12, "labelColor": "#333", "labelPadding": 1, "labelOverlap": false}}}
            }
          ]
        }
      ]
    }
  ]
}
